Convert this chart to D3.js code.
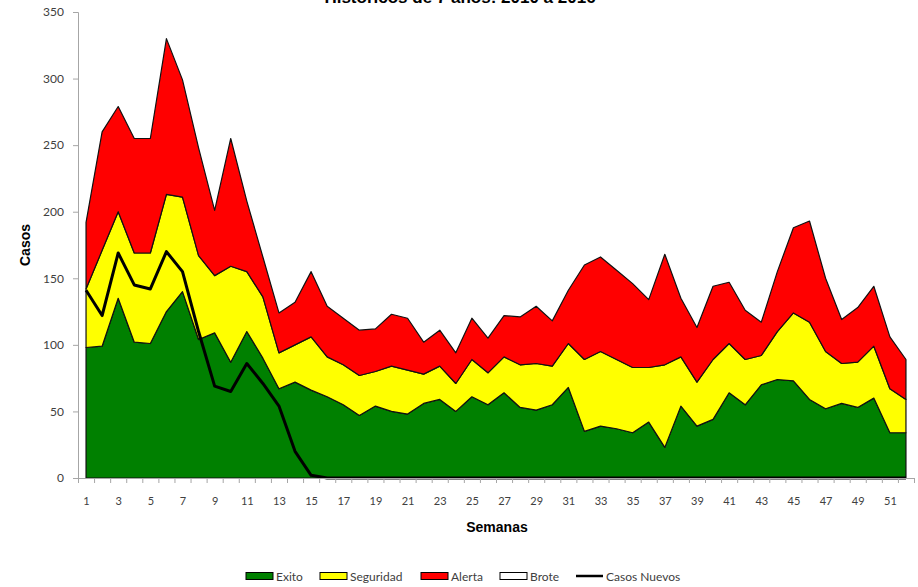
<!DOCTYPE html>
<html>
<head>
<meta charset="utf-8">
<script src="https://cdn.jsdelivr.net/npm/d3@7"></script>
<style>
  body { margin: 0; background: #fff; }
  svg { display: block; }
</style>
</head>
<body>
<svg id="chart" width="918" height="587"></svg>
<script>
// weekly values, 52 weeks
const semanas = d3.range(1, 53);
const exito = [98,99,135,102,101,125,140,104,109,87,110,90,67,72,66,61,55,47,54,50,48,56,59,50,61,55,64,53,51,55,68,35,39,37,34,42,23,54,39,44,64,55,70,74,73,59,52,56,53,60,34,34];
const seguridad = [44,72,65,67,68,88,71,63,43,72,45,46,27,28,40,30,30,30,26,34,33,22,25,21,28,24,27,32,35,29,33,54,56,52,49,41,62,37,33,45,37,34,22,36,51,58,43,30,34,39,33,25];
const alerta = [50,89,79,86,86,117,88,81,49,96,53,30,30,32,49,38,35,34,32,39,39,24,27,23,31,26,31,36,43,34,40,71,71,67,63,51,83,44,41,55,46,37,25,45,64,76,55,33,41,45,39,30];
const casosNuevos = [141,122,169,145,142,170,155,110,69,65,86,71,54,20,2,0,0,0,0,0,0,0,0,0,0,0,0,0,0,0,0,0,0,0,0,0,0,0,0,0,0,0,0,0,0,0,0,0,0,0,0,0];
const yTicks = [0,50,100,150,200,250,300,350];

const series = [
  { key: 'Exito', fill: '#008000' },
  { key: 'Seguridad', fill: '#ffff00' },
  { key: 'Alerta', fill: '#ff0000' }
];

const table = semanas.map((s, i) => ({ semana: s, Exito: exito[i], Seguridad: seguridad[i], Alerta: alerta[i] }));

const svg = d3.select('#chart');
const mLeft = 78, mRight = 914, mTop = 12, mBottom = 478;

const x = d3.scaleBand().domain(semanas).range([mLeft, mRight]);
const xEdge = d3.scaleLinear().domain([0.5, 52.5]).range([mLeft, mRight]);
const y = d3.scaleLinear().domain([0, 350]).range([mBottom, mTop]);
const cx = s => x(s) + x.bandwidth() / 2;

const stack = d3.stack().keys(series.map(d => d.key))(table);

const area = d3.area()
  .x(d => cx(d.data.semana))
  .y0(d => y(d[0]))
  .y1(d => y(d[1]));

// stacked areas, bottom up
svg.append('g')
  .selectAll('path')
  .data(stack)
  .enter()
  .append('path')
  .attr('d', area)
  .attr('fill', (d, i) => series[i].fill)
  .attr('stroke', '#111')
  .attr('stroke-width', 1.2)
  .attr('stroke-linejoin', 'round');

// Casos Nuevos line
const line = d3.line()
  .x((d, i) => cx(semanas[i]))
  .y(d => y(d));

svg.append('path')
  .datum(casosNuevos)
  .attr('d', line)
  .attr('fill', 'none')
  .attr('stroke', '#000')
  .attr('stroke-width', 3)
  .attr('stroke-linejoin', 'round');

// Y axis
const yAxis = svg.append('g')
  .attr('transform', `translate(${mLeft},0)`)
  .call(d3.axisLeft(y).tickValues(yTicks).tickSize(5).tickPadding(9));
yAxis.select('.domain').attr('stroke', '#a6a6a6');
yAxis.selectAll('.tick line').attr('stroke', '#a6a6a6');
yAxis.selectAll('text').style('font-family', 'Lato, sans-serif').style('font-size', '12px').attr('fill', '#404040');

// X axis: tick marks between weeks
const xAxis = svg.append('g')
  .attr('transform', `translate(0,${mBottom})`)
  .call(d3.axisBottom(xEdge).tickValues(d3.range(0.5, 53, 1)).tickSize(5).tickFormat(''));
xAxis.select('.domain').attr('stroke', '#a6a6a6');
xAxis.selectAll('.tick line').attr('stroke', '#a6a6a6');

// X labels on odd weeks
const xLabels = svg.append('g')
  .attr('transform', `translate(0,${mBottom})`)
  .call(d3.axisBottom(xEdge).tickValues(semanas.filter(s => s % 2 === 1)).tickSize(0).tickPadding(19));
xLabels.select('.domain').remove();
xLabels.selectAll('text').style('font-family', 'Lato, sans-serif').style('font-size', '11px').attr('fill', '#404040');

// titles
svg.append('text')
  .attr('x', 460).attr('y', 3)
  .attr('text-anchor', 'middle')
  .style('font-family', 'Liberation Sans, Arial, sans-serif')
  .style('font-weight', 'bold').style('font-size', '17px')
  .text('Históricos de 7 años: 2010 a 2016');

svg.append('text')
  .attr('x', 497).attr('y', 532)
  .attr('text-anchor', 'middle')
  .style('font-family', 'Liberation Sans, Arial, sans-serif')
  .style('font-weight', 'bold').style('font-size', '14px')
  .text('Semanas');

svg.append('text')
  .attr('transform', 'translate(30,245) rotate(-90)')
  .attr('text-anchor', 'middle')
  .style('font-family', 'Liberation Sans, Arial, sans-serif')
  .style('font-weight', 'bold').style('font-size', '14px')
  .text('Casos');

// legend
const legendItems = [
  { name: 'Exito', fill: '#008000', x: 246 },
  { name: 'Seguridad', fill: '#ffff00', x: 320 },
  { name: 'Alerta', fill: '#ff0000', x: 421 },
  { name: 'Brote', fill: '#ffffff', x: 500 },
  { name: 'Casos Nuevos', line: true, x: 576 }
];
const legend = svg.append('g');
legendItems.forEach(d => {
  if (d.line) {
    legend.append('line')
      .attr('x1', d.x).attr('x2', d.x + 27)
      .attr('y1', 576).attr('y2', 576)
      .attr('stroke', '#000').attr('stroke-width', 2.5);
  } else {
    legend.append('rect')
      .attr('x', d.x).attr('y', 572.5)
      .attr('width', 27).attr('height', 7)
      .attr('fill', d.fill).attr('stroke', '#000').attr('stroke-width', 1);
  }
  legend.append('text')
    .attr('x', d.x + 30).attr('y', 580.5)
    .style('font-family', 'Lato, sans-serif').style('font-size', '12px')
    .attr('fill', '#404040')
    .text(d.name);
});
</script>
</body>
</html>
